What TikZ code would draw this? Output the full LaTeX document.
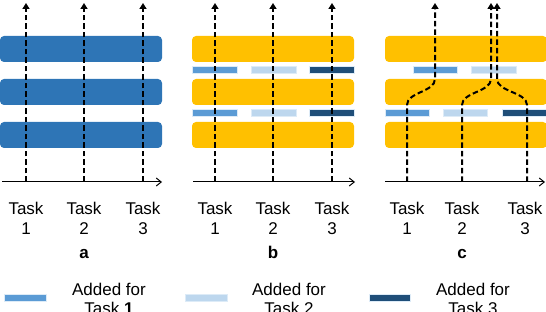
\documentclass[tikz,border=0pt]{standalone}
\usepackage{fontspec}
\setmainfont{Liberation Sans}
\usetikzlibrary{arrows.meta}
\definecolor{barblue}{HTML}{2E75B6}
\definecolor{baryellow}{HTML}{FFC000}
\definecolor{midblue}{HTML}{5B9BD5}
\definecolor{lightblue}{HTML}{BDD7EE}
\definecolor{darkblue}{HTML}{1F4E79}
\definecolor{haloblue}{HTML}{DDEBF7}
\begin{document}
\begin{tikzpicture}[x=1pt,y=-1pt,
  layerbar/.style={rounded corners=4pt, draw=none},
  addbar/.style={draw=haloblue, line width=1pt},
  taskpath/.style={line width=2pt, dash pattern=on 5.5pt off 3pt, -{Triangle[length=6pt,width=7pt]}},
  axisline/.style={line width=1pt, -{Straight Barb[length=5pt,width=8pt]}},
  lbl/.style={font=\fontsize{17}{20}\selectfont, anchor=base, inner sep=0pt},
  panellbl/.style={font=\fontsize{17}{20}\selectfont\bfseries, anchor=base, inner sep=0pt},
]
\useasboundingbox (0,0) rectangle (546,312);

% ---------- Panel a ----------
\foreach \ya/\yb in {36/62,79/105,122/148}
  \fill[layerbar, barblue] (0,\ya) rectangle (162,\yb);
\coordinate (aO) at (2,182);
\coordinate (aE) at (162,182);
\draw[axisline] (aO) -- (aE);
\foreach \x/\n in {26/1,84/2,143/3}{
  \coordinate (aB\n) at (\x,182);
  \coordinate (aT\n) at (\x,3);
  \draw[taskpath] (aB\n) -- (aT\n);
  \node[lbl] (aL\n) at (\x,215) {Task};
  \node[lbl] (aN\n) at (\x,235) {\n};
}
\node[panellbl] (pa) at (84,259) {a};

% ---------- Panel b ----------
\foreach \ya/\yb in {36/62,79/105,122/148}
  \fill[layerbar, baryellow] (192,\ya) rectangle (354,\yb);
\foreach \ya/\yb in {67/74,109.5/117}{
  \filldraw[addbar, fill=midblue] (192,\ya) rectangle (237,\yb);
  \filldraw[addbar, fill=lightblue] (251,\ya) rectangle (296,\yb);
  \filldraw[addbar, fill=darkblue] (309,\ya) rectangle (354,\yb);
}
\coordinate (bO) at (193,182);
\coordinate (bE) at (355,182);
\draw[axisline] (bO) -- (bE);
\foreach \x/\n in {215/1,273/2,332/3}{
  \coordinate (bB\n) at (\x,182);
  \coordinate (bT\n) at (\x,3);
  \draw[taskpath] (bB\n) -- (bT\n);
  \node[lbl] (bL\n) at (\x,215) {Task};
  \node[lbl] (bN\n) at (\x,235) {\n};
}
\node[panellbl] (pb) at (273,259) {b};

% ---------- Panel c ----------
\foreach \ya/\yb in {36/62,79/105,122/148}
  \fill[layerbar, baryellow] (385,\ya) rectangle (547,\yb);
\filldraw[addbar, fill=midblue] (413,67) rectangle (457,74);
\filldraw[addbar, fill=lightblue] (471,67) rectangle (516,74);
\filldraw[addbar, fill=midblue] (385,109.5) rectangle (429,117);
\filldraw[addbar, fill=lightblue] (443,109.5) rectangle (487,117);
\filldraw[addbar, fill=darkblue] (502,109.5) rectangle (547,117);
\coordinate (cO) at (385,182);
\coordinate (cE) at (545,182);
\draw[axisline] (cO) -- (cE);
\coordinate (cB1) at (407,182); \coordinate (cT1) at (435,3);
\coordinate (cB2) at (462,182); \coordinate (cT2) at (491,3);
\coordinate (cB3) at (527,182); \coordinate (cT3) at (497,3);
\draw[taskpath] (cB1) -- (407,105) .. controls (407,92) and (435,92) .. (435,79) -- (cT1);
\draw[taskpath] (cB2) -- (462,105) .. controls (462,92) and (491,92) .. (491,79) -- (cT2);
\draw[taskpath] (cB3) -- (527,105) .. controls (527,92) and (497,92) .. (497,79) -- (cT3);
\foreach \x/\n in {407/1,462/2,525/3}{
  \node[lbl] (cL\n) at (\x,215) {Task};
  \node[lbl] (cN\n) at (\x,235) {\n};
}
\node[panellbl] (pc) at (462,259) {c};

% ---------- Legend ----------
\filldraw[addbar, fill=midblue] (4,295) rectangle (46,302);
\filldraw[addbar, fill=lightblue] (185,295) rectangle (227,302);
\filldraw[addbar, fill=darkblue] (369,295) rectangle (410,302);
\node[lbl] (g1) at (109,295) {Added for};
\node[lbl] (g1b) at (109,315) {Task \textbf{1}};
\node[lbl] (g2) at (289,295) {Added for};
\node[lbl] (g2b) at (289,315) {Task 2};
\node[lbl] (g3) at (473,295) {Added for};
\node[lbl] (g3b) at (473,315) {Task 3};
\end{tikzpicture}
\end{document}
